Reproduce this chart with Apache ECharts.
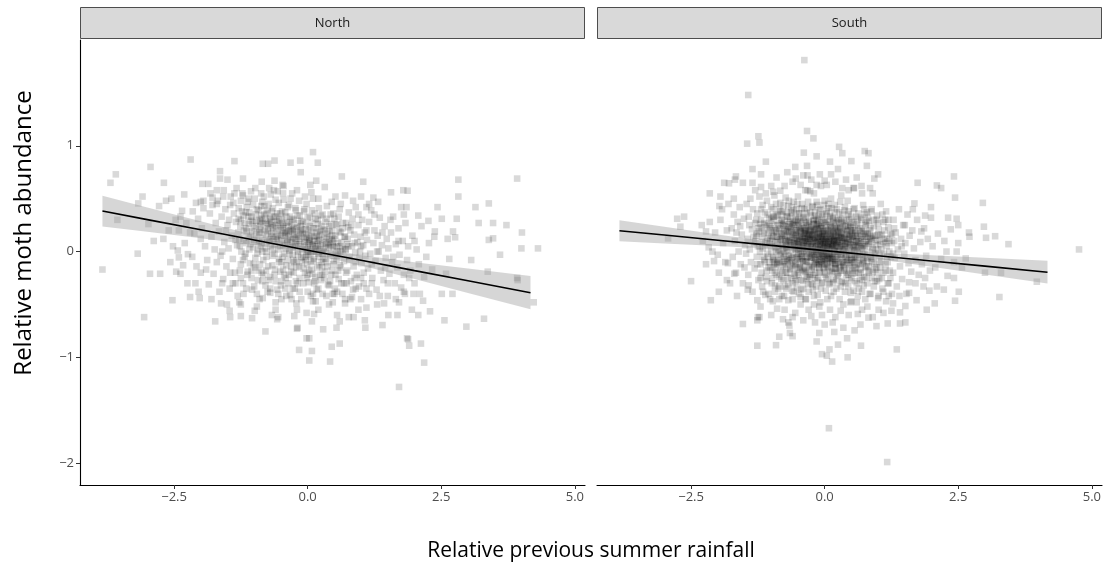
<!DOCTYPE html>
<html><head><meta charset="utf-8">
<script src="https://cdn.jsdelivr.net/npm/echarts@6/dist/echarts.min.js"></script>
<style>html,body{margin:0;padding:0;background:#fff}#c{width:1108px;height:568px}</style>
</head><body><div id="c"></div>
<script>
const panels = ['North','South'];
const xTicks = [-2.5, 0, 2.5, 5.0];
const yTicks = [-2, -1, 0, 1];
const xTitle = 'Relative previous summer rainfall';
const yTitle = 'Relative moth abundance';

const bandX = [-3.84,-3,-2,-1,0,1,2,3,4.17];
const northFit = [0.383,0.302,0.206,0.109,0.013,-0.083,-0.180,-0.276,-0.389];
const northHalf = [0.145,0.115,0.080,0.048,0.030,0.048,0.080,0.115,0.157];
const southFit = [0.197,0.156,0.107,0.058,0.009,-0.040,-0.089,-0.138,-0.195];
const southHalf = [0.100,0.079,0.055,0.032,0.020,0.032,0.055,0.079,0.108];

const northPoints = [
[0.10,0.94],[-2.19,0.87],[-1.37,0.855],[-2.94,0.80],[-0.84,0.83],[-0.74,0.83],[-0.62,0.86],[-0.32,0.84],[-0.14,0.86],[0.19,0.84],[-0.13,0.75],[-3.59,0.73],[-3.69,0.65],[-1.64,0.76],[-2.69,0.65],[-1.97,0.64],[-1.86,0.64],[-1.64,0.69],[-1.50,0.68],[-1.21,0.69],[-0.86,0.66],[-0.62,0.67],[-0.47,0.63],[0.16,0.67],[0.32,0.61],[-2.31,0.54],[-3.09,0.52],[-2.55,0.50],[-2.65,0.48],[-2.78,0.43],[-3.17,0.455],[-1.70,0.58],[-1.78,0.51],[-2.35,0.385],[-2.09,0.46],[-2.0,0.47],[-3.56,0.30],[-2.98,0.26],[-2.88,0.10],[-3.18,-0.02],[-3.84,-0.17],[-2.95,-0.21],[-2.76,-0.21],[-2.46,-0.19],[-2.38,-0.21],[-2.41,0.20],[-2.43,0.01],[-2.41,-0.055],[-2.24,-0.025],[-2.33,-0.13],[-2.08,-0.14],[-2.2,0.18],[-2.12,0.17],
[0.64,0.71],[1.04,0.66],[0.07,0.56],[0.52,0.52],[0.70,0.53],[1.0,0.52],[1.23,0.51],[1.32,0.47],[1.56,0.56],[1.79,0.58],[1.87,0.575],[2.82,0.68],[3.92,0.69],[2.82,0.52],[2.43,0.42],[3.14,0.42],[3.39,0.455],[1.75,0.42],[1.85,0.42],[2.07,0.34],[2.26,0.29],[2.51,0.31],[2.79,0.31],[3.20,0.27],[3.47,0.27],[3.72,0.25],[4.01,0.18],[2.37,0.14],[2.62,0.12],[2.76,0.135],[2.72,0.19],[3.39,0.11],[3.47,0.125],[4.0,0.03],[4.31,0.03],[3.6,-0.03],[3.06,-0.08],[2.65,-0.07],[3.37,-0.19],[2.59,-0.21],[3.92,-0.25],
[-3.06,-0.62],[-2.53,-0.46],[-2.20,-0.43],[-2.04,-0.38],[-2.02,-0.44],[-1.73,-0.66],[-1.62,-0.49],[-1.51,-0.50],[-1.46,-0.56],[-1.45,-0.62],[-1.28,-0.48],[-1.25,-0.61],[-1.04,-0.63],[-0.99,-0.56],[-0.84,-0.44],[-0.70,-0.39],[-0.79,-0.755],[-0.67,-0.60],[-0.55,-0.62],[-0.57,-0.64],[-0.49,-0.45],[-0.33,-0.41],[-0.21,-0.49],[-0.25,-0.61],[-0.19,-0.72],[-0.20,-0.73],[-0.16,-0.93],[-0.02,-0.82],[0.03,-0.82],[0.03,-1.03],[0.08,-0.94],[-0.02,-0.58],[0.08,-0.66],[0.12,-0.59],[0.10,-0.47],[0.10,-0.40],[0.29,-0.735],[0.42,-1.04],[0.45,-0.90],[0.60,-0.87],[0.54,-0.72],[0.60,-0.66],[0.77,-0.62],[0.86,-0.62],[0.70,-0.49],[0.83,-0.43],[0.47,-0.40],[0.47,-0.48],[1.07,-0.65],[1.08,-0.72],[1.10,-0.53],[1.40,-0.695],[1.43,-0.49],[1.51,-0.60],[1.68,-0.60],[1.71,-0.48],[1.82,-0.40],[1.98,-0.40],[1.71,-1.28],[1.88,-0.83],[1.90,-0.89],[1.86,-0.82],[2.12,-0.87],[2.18,-1.05],[1.95,-0.55],[2.07,-0.60],[2.16,-0.465],[2.29,-0.565],[2.51,-0.40],[2.71,-0.40],[2.56,-0.65],[2.97,-0.71],[3.30,-0.635],[4.23,-0.48],[3.93,-0.27],
[-2.05,0.31],[-1.98,0.22],[-1.92,0.05],[-1.88,-0.08],[-1.83,0.36],[-1.8,0.14],[-1.76,-0.21],[-1.72,0.27],[-2.1,-0.3],[-1.95,0.41],[-1.85,-0.31],[-1.74,0.02],[-2.0,0.12],[-1.9,-0.17],[-1.78,0.44],[-1.7,-0.1],
[-1.68,0.48],[-1.66,0.19],[-1.63,-0.04],[-1.61,0.33],[-1.58,-0.26],[-1.56,0.09],[-1.54,0.4],[-1.52,-0.14],[-1.5,0.25],[-1.48,0.03],[-1.46,-0.35],[-1.44,0.52],[-1.42,0.15],[-1.4,-0.07],[-1.38,0.36],[-1.36,-0.2],[-1.34,0.28],[-1.32,0.06],[-1.31,-0.42],[-1.65,-0.38],[-1.57,0.58],[-1.47,0.3],[-1.39,0.46],[-1.35,0.11],[-1.6,0.0],[-1.53,0.2],
[-1.29,0.41],[-1.28,0.12],[-1.27,-0.18],[-1.25,0.3],[-1.24,0.0],[-1.22,0.55],[-1.21,-0.3],[-1.19,0.2],[-1.18,-0.05],[-1.16,0.37],[-1.15,0.08],[-1.13,-0.22],[-1.12,0.47],[-1.1,0.26],[-1.08,-0.11],[-1.07,0.15],[-1.05,0.33],[-1.04,-0.36],[-1.02,0.04],[-1.01,0.22],[-0.99,0.5],[-0.98,-0.15],[-0.96,0.29],[-0.95,0.1],[-0.93,-0.27],[-0.92,0.39],[-0.91,0.18],[-1.26,0.24],[-1.2,0.34],[-1.14,0.19],[-1.09,0.02],[-1.03,0.28],[-0.97,0.35],[-0.94,-0.02],
[-0.89,0.24],[-0.88,0.05],[-0.87,0.43],[-0.86,-0.2],[-0.85,0.31],[-0.84,0.13],[-0.83,-0.08],[-0.82,0.52],[-0.8,0.2],[-0.79,-0.32],[-0.78,0.36],[-0.77,0.0],[-0.76,0.26],[-0.74,-0.14],[-0.73,0.45],[-0.72,0.1],[-0.71,0.31],[-0.7,-0.24],[-0.68,0.17],[-0.67,0.38],[-0.66,-0.04],[-0.65,0.23],[-0.63,0.58],[-0.62,0.07],[-0.61,-0.17],[-0.6,0.33],[-0.59,0.14],[-0.57,-0.36],[-0.56,0.27],[-0.55,0.02],[-0.54,0.46],[-0.53,-0.1],[-0.52,0.2],[-0.51,0.36],[-0.88,0.28],[-0.81,0.35],[-0.75,0.19],[-0.69,0.25],[-0.64,0.12],[-0.58,0.29],
[-0.49,0.11],[-0.48,0.31],[-0.47,-0.05],[-0.46,0.22],[-0.45,0.49],[-0.44,-0.22],[-0.43,0.15],[-0.42,0.37],[-0.41,0.03],[-0.4,-0.13],[-0.39,0.27],[-0.38,0.08],[-0.37,0.42],[-0.36,-0.3],[-0.35,0.19],[-0.34,-0.02],[-0.33,0.33],[-0.32,0.12],[-0.31,-0.19],[-0.3,0.25],[-0.29,0.55],[-0.28,0.04],[-0.27,-0.08],[-0.26,0.3],[-0.25,0.16],[-0.24,-0.35],[-0.23,0.41],[-0.22,0.07],[-0.21,-0.15],[-0.2,0.23],[-0.19,0.34],[-0.18,-0.03],[-0.17,0.14],[-0.16,0.48],[-0.15,-0.25],[-0.14,0.2],[-0.13,0.05],[-0.12,0.29],[-0.11,-0.1],[-0.47,0.18],[-0.4,0.2],[-0.33,0.06],[-0.27,0.21],[-0.2,0.1],[-0.13,0.24],
[-0.09,0.17],[-0.08,-0.06],[-0.07,0.38],[-0.06,0.09],[-0.05,-0.2],[-0.04,0.26],[-0.03,0.0],[-0.02,0.45],[-0.01,-0.12],[0.0,0.02],[0.01,0.2],[0.02,-0.29],[0.03,0.12],[0.04,0.33],[0.05,-0.04],[0.06,0.18],[0.07,-0.17],[0.08,0.27],[0.09,0.06],[0.1,0.5],[0.11,-0.09],[0.12,0.14],[0.13,0.36],[0.14,-0.24],[0.15,0.03],[0.16,0.22],[0.17,-0.36],[0.18,0.1],[0.19,0.3],[0.2,-0.02],[0.21,0.41],[0.22,-0.13],[0.23,0.16],[0.24,0.06],[0.25,-0.27],[0.26,0.24],[0.27,0.0],[0.28,0.35],[0.29,-0.07],[0.0,0.0],[-0.03,0.14],[0.05,0.09],[0.12,0.0],[0.2,0.12],[0.27,-0.15],
[0.31,0.13],[0.32,-0.19],[0.33,0.28],[0.34,0.03],[0.35,-0.1],[0.36,0.43],[0.37,0.17],[0.38,-0.31],[0.39,0.08],[0.4,0.24],[0.42,-0.04],[0.43,0.35],[0.44,-0.22],[0.45,0.11],[0.46,0.2],[0.48,-0.12],[0.49,0.04],[0.5,0.31],[0.51,-0.35],[0.52,0.15],[0.54,-0.07],[0.55,0.26],[0.56,0.0],[0.58,-0.26],[0.59,0.19],[0.6,0.4],[0.62,-0.15],[0.63,0.09],[0.65,0.22],[0.66,-0.03],[0.68,-0.3],[0.69,0.14],[0.35,0.07],[0.41,0.12],[0.47,0.05],[0.53,-0.02],[0.61,0.05],
[0.71,0.02],[0.72,0.27],[0.74,-0.18],[0.75,0.12],[0.77,0.37],[0.78,-0.08],[0.8,0.2],[0.81,-0.28],[0.83,0.05],[0.84,0.31],[0.86,-0.14],[0.87,0.16],[0.89,-0.01],[0.9,0.42],[0.92,-0.22],[0.93,0.09],[0.95,0.25],[0.96,-0.33],[0.98,0.0],[0.99,0.14],[1.01,-0.11],[1.02,0.3],[1.04,0.06],[1.05,-0.2],[1.07,0.18],[1.08,-0.04],[0.76,0.05],[0.88,0.08],[0.97,-0.06],
[1.11,0.11],[1.13,-0.16],[1.15,0.28],[1.17,-0.02],[1.19,0.39],[1.21,-0.25],[1.23,0.08],[1.25,0.2],[1.27,-0.09],[1.29,-0.36],[1.31,0.15],[1.33,0.0],[1.35,0.32],[1.37,-0.18],[1.39,0.06],[1.42,-0.27],[1.44,0.24],[1.46,-0.06],[1.48,0.12],
[1.51,0.03],[1.53,-0.21],[1.56,0.18],[1.58,-0.1],[1.6,0.33],[1.63,-0.3],[1.65,0.07],[1.68,-0.15],[1.7,0.22],[1.72,-0.03],[1.75,-0.34],[1.78,0.1],[1.8,-0.22],[1.83,0.27],[1.86,-0.08],[1.88,0.05],
[1.92,-0.18],[1.96,0.15],[2.0,-0.3],[2.04,0.02],[2.08,-0.12],[2.13,0.24],[2.18,-0.24],[2.22,-0.05],[2.27,0.08],[2.33,-0.17],[2.38,0.19],
[-1.37,0.55],[-1.21,0.53],[-1.06,0.57],[-0.87,0.55],[-0.69,0.54],[-0.56,0.57],[-0.46,0.55],[0.45,0.47],[0.62,0.45],[0.85,0.48],[1.1,0.42],
[-2.6,0.2],[-2.52,0.05],[-2.47,0.3],[-2.3,0.08],[-2.27,0.27],[-2.16,-0.05],[-2.15,0.38],[-2.57,-0.1],[-2.7,0.12],[-2.25,-0.3],[-2.38,0.33]
];

const northCore = [
[-1.3,0.18],[-1.27,0.05],[-1.25,-0.12],[-1.23,0.38],[-1.2,0.1],[-1.18,0.27],[-1.16,-0.02],[-1.14,0.42],[-1.12,-0.19],[-1.1,0.13],[-1.29,0.31],[-1.21,-0.08],[-1.15,0.22],[-1.11,0.33],
[-1.09,0.37],[-1.07,0.07],[-1.05,-0.25],[-1.04,0.19],[-1.02,0.44],[-1.0,0.11],[-0.98,-0.06],[-0.97,0.24],[-0.95,0.4],[-0.93,0.02],[-0.92,-0.18],[-0.9,0.3],[-1.06,0.29],[-1.01,-0.12],[-0.96,0.16],[-0.91,0.09],
[-0.9,0.18],[-0.89,-0.12],[-0.87,0.34],[-0.86,0.08],[-0.84,0.27],[-0.83,-0.22],[-0.81,0.43],[-0.8,0.03],[-0.78,0.16],[-0.77,-0.05],[-0.75,0.39],[-0.74,0.22],[-0.73,-0.27],[-0.71,0.12],[-0.7,0.32],[-0.88,0.21],[-0.85,0.0],[-0.79,0.29],[-0.76,0.09],[-0.72,0.26],
[-0.69,0.05],[-0.68,0.28],[-0.66,-0.13],[-0.65,0.41],[-0.64,0.19],[-0.62,-0.02],[-0.61,0.25],[-0.6,-0.28],[-0.58,0.1],[-0.57,0.36],[-0.56,0.16],[-0.54,-0.07],[-0.53,0.3],[-0.52,0.05],[-0.51,-0.19],[-0.67,0.14],[-0.63,0.33],[-0.59,0.22],[-0.55,0.12],[-0.5,0.24],[-0.66,0.02],
[-0.5,0.15],[-0.49,-0.1],[-0.48,0.38],[-0.46,0.06],[-0.45,0.27],[-0.44,-0.02],[-0.42,0.17],[-0.41,-0.25],[-0.4,0.33],[-0.38,0.11],[-0.37,-0.08],[-0.36,0.24],[-0.35,0.44],[-0.34,0.01],[-0.32,0.2],[-0.31,-0.14],[-0.3,0.09],[-0.47,0.25],[-0.43,0.09],[-0.39,0.18],[-0.33,0.28],[-0.46,-0.17],[-0.36,0.14],
[-0.29,0.31],[-0.28,-0.03],[-0.27,0.13],[-0.26,-0.2],[-0.25,0.22],[-0.24,0.05],[-0.22,0.39],[-0.21,-0.09],[-0.2,0.16],[-0.19,-0.3],[-0.18,0.27],[-0.17,0.07],[-0.16,-0.14],[-0.15,0.34],[-0.14,0.12],[-0.12,-0.05],[-0.11,0.21],[-0.1,0.02],[-0.28,0.19],[-0.23,0.12],[-0.18,0.0],[-0.13,0.18],[-0.25,-0.1],
[-0.09,0.28],[-0.08,-0.16],[-0.07,0.1],[-0.06,0.4],[-0.05,0.04],[-0.04,-0.08],[-0.03,0.21],[-0.02,-0.25],[-0.01,0.13],[0.0,0.32],[0.01,-0.03],[0.02,0.08],[0.03,-0.18],[0.04,0.24],[0.05,0.02],[0.06,-0.1],[0.07,0.15],[0.08,0.39],[0.09,-0.21],[0.1,0.07],[-0.06,0.16],[0.0,0.06],[0.04,0.11],[-0.03,-0.05],[0.08,0.0],
[0.11,0.22],[0.12,-0.07],[0.13,0.1],[0.14,-0.28],[0.15,0.31],[0.16,0.0],[0.17,0.15],[0.18,-0.15],[0.19,0.05],[0.2,0.26],[0.21,-0.05],[0.22,0.11],[0.23,-0.22],[0.24,0.19],[0.25,0.34],[0.26,-0.1],[0.27,0.07],[0.28,-0.02],[0.29,0.2],[0.14,0.05],[0.22,0.02],[0.18,0.18],
[0.3,0.0],[0.31,-0.25],[0.32,0.21],[0.33,-0.07],[0.35,0.14],[0.36,0.31],[0.37,-0.14],[0.39,0.04],[0.4,-0.32],[0.41,0.19],[0.43,-0.02],[0.44,0.26],[0.45,-0.18],[0.47,0.09],[0.48,0.36],[0.49,-0.09],[0.34,0.09],[0.42,0.06],[0.46,0.15],
[0.5,0.12],[0.52,-0.22],[0.53,0.25],[0.55,-0.04],[0.57,0.08],[0.58,0.33],[0.6,-0.13],[0.62,0.18],[0.63,-0.3],[0.65,0.03],[0.66,0.27],[0.68,-0.09],[0.7,0.14],[0.72,-0.2],[0.74,0.07],[0.76,0.23],[0.78,-0.05],[0.54,0.05],[0.61,0.0],[0.71,0.02],
[-1.95,0.48],[-1.82,0.55],[-1.7,0.45],[-1.58,0.52],[-1.45,0.44],[-1.33,0.6],[-1.25,0.48],[-1.1,0.5],[-0.98,0.6],[-0.85,0.47],[-0.72,0.6],[-0.6,0.49],[-0.45,0.62],[-0.32,0.5],[-0.2,0.58],[-0.05,0.52],[0.05,0.63],[0.2,0.5],
[-1.4,-0.3],[-1.2,-0.4],[-1.0,-0.33],[-0.9,-0.45],[-0.75,-0.38],[-0.6,-0.48],[-0.5,-0.32],[-0.4,-0.42],[-0.28,-0.35],[-0.12,-0.45],[0.0,-0.38],[0.15,-0.47],[0.28,-0.4],[0.4,-0.5],[0.55,-0.38],[0.7,-0.45],[0.85,-0.36],[1.0,-0.45],[1.15,-0.4],[1.3,-0.5],[1.5,-0.42],
[0.82,0.25],[0.9,-0.1],[0.95,0.35],[1.0,0.05],[1.05,-0.3],[1.1,0.2],[1.2,-0.12],[1.25,0.35],[1.3,0.0],[1.4,0.18],[1.45,-0.15],[1.55,0.3],[1.6,-0.05],[1.7,0.1],[1.8,0.35],[1.9,-0.25],[2.0,0.1],[2.1,-0.4],[0.88,-0.25],[1.15,0.45]
];

const northLower = [
[-1.45,-0.2],[-1.35,-0.3],[-1.25,-0.25],[-1.15,-0.35],[-1.05,-0.18],[-0.95,-0.4],[-0.85,-0.28],[-0.78,-0.18],[-0.7,-0.35],[-0.62,-0.22],[-0.55,-0.4],[-0.48,-0.28],[-0.42,-0.35],[-0.35,-0.22],[-0.3,-0.45],[-0.22,-0.28],[-0.15,-0.38],[-0.08,-0.3],[0.0,-0.22],[0.06,-0.42],[0.12,-0.3],[0.2,-0.35],[0.27,-0.22],[0.35,-0.42],[0.42,-0.28],[0.5,-0.4],[0.57,-0.18],[0.65,-0.4],[0.73,-0.3],[0.8,-0.45],[0.9,-0.35],[1.0,-0.25],[1.1,-0.35],[1.2,-0.3],[1.35,-0.42],[1.5,-0.3],[1.65,-0.45],[1.8,-0.38],[-1.6,-0.3],[-1.8,-0.45],[-2.0,-0.2],[-1.25,-0.5],[-0.6,-0.55],[0.2,-0.55],[0.95,-0.55],[-0.95,-0.52],[0.55,-0.6],[-0.2,-0.55]
];

const southPoints = [
[-0.33,1.14],[-0.21,1.07],[-1.24,1.09],[-1.22,1.03],[-1.45,1.02],[-0.39,0.935],[0.27,0.99],[0.33,0.93],[0.50,0.855],[-1.10,0.85],[-0.33,0.81],[-1.35,0.78],[-1.19,0.73],[-1.66,0.71],[-1.68,0.68],[-1.88,0.65],[-1.79,0.645],[-1.53,0.65],[-1.35,0.65],[-1.19,0.61],[-0.83,0.575],[-0.96,0.565],[-0.54,0.69],[-0.32,0.58],[-0.27,0.57],[-0.09,0.73],[0.12,0.73],[0.04,0.63],[0.33,0.60],[0.55,0.60],[-2.15,0.55],[-1.95,0.52],[-1.70,0.50],[-2.76,0.31],[-2.63,0.33],[-2.70,0.235],[-2.93,0.125],[-2.30,0.25],[-2.22,0.19],[-1.97,0.43],[-1.92,0.40],[-2.17,0.04],[-2.07,-0.09],[-2.00,-0.03],[-2.50,-0.28],[-2.13,-0.46],[-1.98,-0.38],[-1.64,-0.42],[-1.26,-0.46],[-1.25,-0.62],[-0.38,1.81],[-1.43,1.48],[-0.32,0.72],[-1.81,-0.11],[-1.69,-0.21],[-1.83,-0.27],
[0.75,0.95],[0.82,0.93],[0.79,0.81],[1.0,0.73],[0.93,0.69],[1.74,0.65],[2.42,0.71],[2.10,0.625],[2.18,0.60],[2.44,0.51],[2.96,0.46],[1.68,0.455],[1.99,0.42],[0.54,0.60],[0.69,0.62],[0.85,0.60],[2.31,0.32],[2.47,0.31],[2.50,0.25],[2.98,0.235],[3.02,0.13],[3.19,0.145],[2.70,0.18],[2.71,0.14],[3.44,0.07],[4.76,0.02],[1.99,0.32],[1.5,0.25],[1.81,0.19],[3.0,-0.20],[3.30,-0.20],[3.97,-0.285],[2.42,-0.25],[2.51,-0.38],[2.44,-0.465],[3.27,-0.43],[2.06,-0.49],[1.91,-0.55],[1.72,-0.46],[1.88,-0.25],[1.85,-0.33],[1.96,-0.37],[1.7,-0.3],[1.58,-0.29],[2.28,0.0],[2.47,0.0],[2.64,-0.065],
[-1.53,-0.685],[-1.26,-0.89],[-1.26,-0.65],[-1.22,-0.62],[-0.91,-0.885],[-0.85,-0.805],[-0.78,-0.64],[-0.68,-0.67],[-0.66,-0.70],[-0.6,-0.62],[-0.65,-0.77],[-0.25,-0.61],[-0.18,-0.67],[-0.10,-0.77],[0.0,-0.69],[-0.05,-0.97],[0.04,-0.985],[0.09,-0.925],[0.14,-1.04],[0.18,-0.76],[0.15,-0.67],[0.42,-0.82],[0.43,-1.0],[0.56,-0.745],[0.62,-0.59],[0.67,-0.69],[0.68,-0.89],[0.82,-0.625],[0.97,-0.705],[1.01,-0.55],[1.18,-0.68],[1.25,-0.56],[1.35,-0.925],[1.41,-0.575],[1.41,-0.68],[1.51,-0.67],[1.51,-0.515],[1.58,-0.39],[2.23,-0.36],[2.10,-0.33],[0.08,-1.67],[1.17,-1.99],[-1.44,-0.36],[-1.42,-0.32],[-1.11,-0.41],[-0.97,-0.47],[-0.89,-0.54],[-0.6,-0.45],[-0.45,-0.5],[-0.3,-0.55],[-0.1,-0.52],[0.1,-0.55],[0.3,-0.56],[0.5,-0.47],[0.8,-0.52],[1.0,-0.44],[1.15,-0.47],[1.28,-0.49],[1.4,-0.42],
[-1.74,0.22],[-1.72,-0.05],[-1.7,0.35],[-1.68,0.1],[-1.66,-0.2],[-1.63,0.28],[-1.61,0.0],[-1.59,0.42],[-1.57,-0.12],[-1.55,0.16],[-1.53,-0.3],[-1.51,0.31],[-1.49,0.06],[-1.47,-0.02],[-1.46,0.45],[-1.65,0.18],[-1.58,0.24],[-1.5,-0.15],
[-1.44,0.12],[-1.43,-0.22],[-1.42,0.33],[-1.4,0.02],[-1.39,0.5],[-1.38,-0.1],[-1.36,0.21],[-1.35,-0.38],[-1.34,0.4],[-1.32,0.08],[-1.31,-0.16],[-1.3,0.27],[-1.28,0.15],[-1.27,-0.05],[-1.26,0.36],[-1.24,-0.27],[-1.23,0.19],[-1.22,0.52],[-1.21,0.0],[-1.2,-0.12],[-1.19,0.3],[-1.18,0.09],[-1.17,-0.33],[-1.16,0.44],[-1.41,0.25],[-1.33,0.14],[-1.25,0.05],[-1.18,0.23],
[-1.14,0.17],[-1.13,-0.08],[-1.12,0.37],[-1.11,0.05],[-1.1,-0.24],[-1.09,0.26],[-1.08,0.48],[-1.07,-0.02],[-1.06,0.13],[-1.05,-0.4],[-1.04,0.32],[-1.03,0.07],[-1.02,-0.15],[-1.01,0.22],[-1.0,0.42],[-0.99,-0.3],[-0.98,0.1],[-0.97,0.29],[-0.96,-0.06],[-0.95,0.18],[-0.94,0.53],[-0.93,-0.2],[-0.92,0.04],[-0.91,0.35],[-0.9,0.14],[-0.89,-0.11],[-0.88,0.25],[-0.87,-0.35],[-0.86,0.01],[-0.85,0.4],[-1.12,0.2],[-1.08,0.1],[-1.03,0.24],[-0.99,0.15],[-0.96,0.33],[-0.92,0.2],[-0.88,0.09],[-1.06,-0.05],[-0.94,-0.1],[-1.0,0.0],
[-0.84,0.21],[-0.83,-0.04],[-0.83,0.46],[-0.82,0.12],[-0.81,-0.26],[-0.8,0.3],[-0.79,0.06],[-0.78,-0.14],[-0.78,0.38],[-0.77,0.17],[-0.76,-0.42],[-0.75,0.24],[-0.74,0.0],[-0.73,0.51],[-0.73,-0.2],[-0.72,0.1],[-0.71,0.33],[-0.7,-0.08],[-0.69,0.19],[-0.68,0.43],[-0.68,-0.31],[-0.67,0.04],[-0.66,0.26],[-0.65,-0.16],[-0.64,0.14],[-0.63,0.37],[-0.63,-0.03],[-0.62,0.22],[-0.61,-0.37],[-0.6,0.08],[-0.59,0.29],[-0.58,-0.11],[-0.58,0.47],[-0.57,0.16],[-0.56,-0.23],[-0.55,0.02],[-0.8,0.15],[-0.77,0.26],[-0.74,0.11],[-0.71,0.2],[-0.67,0.09],[-0.64,0.28],[-0.61,0.13],[-0.58,0.2],[-0.82,-0.1],[-0.75,-0.05],[-0.69,-0.1],[-0.62,-0.06],[-0.56,0.1],[-0.72,0.05],
[-0.54,0.25],[-0.54,-0.13],[-0.53,0.4],[-0.52,0.07],[-0.52,-0.34],[-0.51,0.18],[-0.5,-0.02],[-0.5,0.52],[-0.49,0.3],[-0.48,-0.22],[-0.48,0.11],[-0.47,0.36],[-0.46,-0.07],[-0.45,0.21],[-0.45,-0.43],[-0.44,0.03],[-0.43,0.27],[-0.42,-0.16],[-0.42,0.45],[-0.41,0.13],[-0.4,-0.28],[-0.39,0.06],[-0.39,0.33],[-0.38,-0.04],[-0.37,0.19],[-0.36,0.58],[-0.36,-0.19],[-0.35,0.09],[-0.34,0.25],[-0.33,-0.1],[-0.33,0.41],[-0.32,0.15],[-0.31,-0.31],[-0.3,0.01],[-0.3,0.28],[-0.29,-0.24],[-0.28,0.11],[-0.27,0.37],[-0.27,-0.05],[-0.26,0.2],[-0.53,0.15],[-0.5,0.08],[-0.47,0.22],[-0.44,0.14],[-0.41,0.03],[-0.38,0.17],[-0.35,0.2],[-0.32,0.05],[-0.29,0.16],[-0.26,0.07],[-0.51,-0.05],[-0.46,-0.15],[-0.4,-0.09],[-0.34,-0.02],[-0.28,-0.13],[-0.49,0.0],[-0.43,0.09],[-0.37,0.1],[-0.31,0.12],[-0.25,0.0],
[-0.24,0.16],[-0.24,-0.17],[-0.23,0.43],[-0.22,0.05],[-0.22,-0.36],[-0.21,0.26],[-0.2,-0.06],[-0.2,0.55],[-0.19,0.13],[-0.18,-0.25],[-0.18,0.34],[-0.17,0.02],[-0.16,0.21],[-0.15,-0.12],[-0.15,0.47],[-0.14,0.09],[-0.13,-0.41],[-0.13,0.3],[-0.12,-0.03],[-0.11,0.17],[-0.1,-0.2],[-0.1,0.39],[-0.09,0.06],[-0.08,0.24],[-0.07,-0.09],[-0.07,0.62],[-0.06,0.12],[-0.05,-0.29],[-0.05,0.33],[-0.04,0.0],[-0.03,0.19],[-0.02,-0.15],[-0.02,0.44],[-0.01,0.08],[0.0,-0.04],[0.0,0.27],[0.01,-0.22],[0.02,0.14],[0.03,0.36],[0.03,-0.07],[0.04,0.05],[-0.22,0.1],[-0.19,0.2],[-0.16,0.08],[-0.13,0.14],[-0.1,0.02],[-0.07,0.15],[-0.04,0.1],[-0.01,0.17],[0.02,0.0],[-0.23,-0.02],[-0.17,-0.08],[-0.11,-0.13],[-0.06,-0.02],[0.01,0.09],[-0.2,0.3],[-0.14,0.25],[-0.08,0.07],[-0.03,0.04],[-0.02,-0.02],[-0.03,-0.03],[0.0,0.03],[-0.12,0.11],[-0.18,0.04],[-0.05,0.22],
[0.06,0.2],[0.06,-0.14],[0.07,0.41],[0.08,0.03],[0.09,-0.31],[0.1,0.26],[0.11,-0.05],[0.11,0.12],[0.12,0.5],[0.13,-0.19],[0.14,0.07],[0.15,0.32],[0.15,-0.09],[0.16,0.17],[0.17,-0.38],[0.18,0.0],[0.19,0.24],[0.19,0.44],[0.2,-0.12],[0.21,0.1],[0.22,-0.27],[0.23,0.3],[0.23,0.04],[0.24,-0.02],[0.25,0.18],[0.26,-0.2],[0.27,0.37],[0.27,0.09],[0.28,-0.07],[0.29,0.22],[0.3,-0.33],[0.31,0.13],[0.31,0.53],[0.32,-0.1],[0.33,0.27],[0.34,0.02],[0.08,0.1],[0.12,0.19],[0.16,0.06],[0.2,0.14],[0.24,0.11],[0.28,0.15],[0.32,0.06],[0.09,-0.02],[0.14,-0.07],[0.19,-0.05],[0.25,0.0],[0.3,-0.03],[0.1,0.33],[0.17,0.28],[0.22,0.21],[0.07,0.07],[0.13,0.04],[0.18,0.1],[0.26,0.04],[0.33,0.12],[0.05,-0.06],[0.21,-0.16],[0.29,0.31],[0.11,0.23],
[0.36,0.19],[0.36,-0.16],[0.37,0.39],[0.38,0.05],[0.39,-0.3],[0.4,0.24],[0.41,-0.05],[0.42,0.12],[0.43,0.48],[0.44,-0.22],[0.45,0.08],[0.46,0.31],[0.47,-0.11],[0.48,0.16],[0.49,-0.39],[0.5,0.01],[0.51,0.27],[0.52,-0.18],[0.53,0.1],[0.54,0.4],[0.55,-0.07],[0.56,0.2],[0.57,-0.28],[0.58,0.06],[0.59,0.33],[0.6,-0.13],[0.61,0.15],[0.62,-0.01],[0.63,0.24],[0.64,-0.35],[0.38,0.13],[0.42,0.2],[0.47,0.07],[0.51,0.14],[0.55,0.04],[0.6,0.1],[0.4,-0.1],[0.45,0.0],[0.5,-0.08],[0.56,-0.15],[0.62,0.3],[0.44,0.35],[0.53,0.22],[0.39,0.08],[0.48,0.23],[0.58,0.17],[0.63,0.05],[0.37,0.0],[0.46,-0.03],[0.57,-0.05],
[0.66,0.09],[0.67,-0.2],[0.68,0.32],[0.69,0.03],[0.7,0.2],[0.71,-0.11],[0.72,0.44],[0.73,-0.32],[0.74,0.14],[0.75,-0.03],[0.76,0.26],[0.77,0.07],[0.78,-0.24],[0.79,0.37],[0.8,0.0],[0.81,0.17],[0.82,-0.14],[0.83,0.29],[0.84,-0.4],[0.85,0.1],[0.86,0.22],[0.87,-0.07],[0.88,0.4],[0.89,0.04],[0.9,-0.19],[0.91,0.15],[0.92,0.3],[0.93,-0.01],[0.94,-0.28],[0.68,0.12],[0.72,0.06],[0.77,0.17],[0.82,0.09],[0.87,0.13],[0.91,-0.06],[0.7,-0.05],[0.8,-0.09],[0.75,0.35],
[0.96,0.11],[0.97,-0.15],[0.98,0.34],[1.0,0.02],[1.01,0.21],[1.02,-0.26],[1.04,0.07],[1.05,0.45],[1.06,-0.09],[1.07,0.16],[1.08,-0.35],[1.1,0.28],[1.11,-0.02],[1.12,0.12],[1.14,-0.18],[1.15,0.38],[1.16,0.05],[1.18,-0.1],[1.19,0.23],[1.2,-0.3],[1.21,0.0],[1.23,0.17],[1.24,-0.05],[1.0,0.16],[1.09,0.09],[1.17,0.12],[1.03,-0.04],[1.13,0.3],
[1.26,0.08],[1.28,-0.2],[1.29,0.3],[1.31,-0.06],[1.33,0.18],[1.35,-0.33],[1.37,0.02],[1.39,0.4],[1.41,-0.14],[1.43,0.12],[1.45,-0.26],[1.47,0.25],[1.49,-0.02],[1.51,0.08],[1.53,-0.4],[1.55,0.35],[1.57,-0.11],[1.59,0.15],[1.3,0.1],[1.44,0.05],
[1.62,-0.19],[1.64,0.2],[1.67,0.03],[1.7,-0.08],[1.73,0.3],[1.76,-0.22],[1.79,0.09],[1.82,-0.12],[1.86,0.22],[1.9,-0.04],[1.93,0.12],[1.97,-0.18],[1.65,0.4],[1.88,0.34],
[2.02,0.05],[2.07,-0.15],[2.12,0.17],[2.18,-0.07],[2.24,0.1],[2.3,-0.23],[2.36,0.21],[2.42,-0.1],[2.5,0.08],[2.57,-0.15],
[-2.28,0.1],[-2.22,-0.12],[-2.15,0.28],[-2.1,0.0],[-2.05,0.18],[-1.98,-0.2],[-1.95,0.3],[-1.9,0.08],[-1.86,-0.1],[-1.83,0.2],[-1.8,0.45],[-1.77,-0.3],
[-1.0,0.62],[-0.9,0.7],[-0.75,0.62],[-0.7,0.75],[-0.6,0.66],[-0.45,0.63],[-0.4,0.72],[-0.25,0.68],[-0.15,0.63],[0.0,0.67],[0.2,0.66],[0.25,0.78],[0.4,0.68],[0.45,0.58],[0.6,0.7],[0.7,0.55],[0.9,0.55],[-1.1,0.55],[-1.3,0.58],[-0.55,0.8],[0.1,0.85],[-0.15,0.9],
[-1.2,-0.52],[-1.0,-0.6],[-0.85,-0.45],[-0.75,-0.55],[-0.55,-0.58],[-0.4,-0.65],[-0.35,-0.45],[-0.2,-0.5],[-0.05,-0.6],[0.05,-0.45],[0.2,-0.62],[0.35,-0.5],[0.45,-0.6],[0.6,-0.48],[0.7,-0.55],[0.9,-0.62],[1.1,-0.58],[1.2,-0.42],[-0.6,-0.8],[0.35,-0.72],[-0.15,-0.85],[0.25,-0.88]
];

const southCore = [
[-1.0,0.31],[-0.99,0.05],[-0.98,-0.18],[-0.97,0.4],[-0.96,0.14],[-0.95,-0.05],[-0.94,0.25],[-0.93,-0.32],[-0.92,0.09],[-0.91,0.45],[-0.9,0.19],[-0.89,-0.12],[-0.88,0.34],[-0.87,0.02],[-0.86,0.22],[-0.85,-0.24],[-0.84,0.11],[-0.83,0.38],[-0.82,-0.03],[-0.81,0.27],[-0.8,0.06],[-0.99,0.2],[-0.95,0.33],[-0.92,-0.15],[-0.88,0.14],[-0.85,0.29],[-0.82,0.17],[-0.97,-0.08],[-0.9,0.0],[-0.84,-0.1],
[-0.8,0.35],[-0.79,-0.2],[-0.79,0.12],[-0.78,0.03],[-0.77,0.44],[-0.76,0.19],[-0.76,-0.09],[-0.75,0.29],[-0.74,-0.33],[-0.73,0.08],[-0.73,0.21],[-0.72,-0.14],[-0.71,0.37],[-0.7,0.01],[-0.7,0.15],[-0.69,-0.25],[-0.68,0.24],[-0.67,0.48],[-0.67,-0.04],[-0.66,0.11],[-0.65,0.31],[-0.64,-0.17],[-0.64,0.06],[-0.63,0.19],[-0.62,0.42],[-0.62,-0.1],[-0.61,0.26],[-0.6,0.03],[-0.6,-0.3],[-0.78,0.25],[-0.75,0.14],[-0.72,0.04],[-0.69,0.33],[-0.66,0.18],[-0.63,0.09],[-0.61,0.36],[-0.77,-0.02],[-0.71,-0.07],[-0.65,0.23],[-0.68,0.1],
[-0.59,0.16],[-0.59,-0.05],[-0.58,0.39],[-0.57,0.08],[-0.57,-0.21],[-0.56,0.27],[-0.55,0.13],[-0.55,-0.12],[-0.54,0.33],[-0.53,0.02],[-0.53,0.2],[-0.52,-0.27],[-0.51,0.45],[-0.51,0.1],[-0.5,-0.07],[-0.49,0.24],[-0.49,0.05],[-0.48,0.36],[-0.47,-0.15],[-0.47,0.14],[-0.46,0.29],[-0.45,-0.02],[-0.45,0.19],[-0.44,-0.36],[-0.43,0.41],[-0.43,0.07],[-0.42,0.23],[-0.41,-0.09],[-0.41,0.12],[-0.4,0.32],[-0.58,0.25],[-0.56,0.04],[-0.54,0.18],[-0.52,0.12],[-0.5,0.28],[-0.48,0.09],[-0.46,0.2],[-0.44,0.15],[-0.42,0.01],[-0.4,0.17],[-0.55,0.07],[-0.51,-0.17],[-0.47,0.04],[-0.43,-0.05],[-0.53,0.3],
[-0.4,0.06],[-0.39,-0.18],[-0.39,0.22],[-0.38,0.4],[-0.38,0.0],[-0.37,0.13],[-0.36,-0.1],[-0.36,0.3],[-0.35,0.05],[-0.35,0.18],[-0.34,-0.26],[-0.34,0.36],[-0.33,0.1],[-0.32,0.24],[-0.32,-0.05],[-0.31,0.47],[-0.31,0.16],[-0.3,-0.15],[-0.3,0.07],[-0.29,0.28],[-0.28,0.02],[-0.28,0.19],[-0.27,-0.22],[-0.27,0.12],[-0.26,0.34],[-0.25,-0.06],[-0.25,0.23],[-0.24,0.09],[-0.23,-0.31],[-0.23,0.15],[-0.22,0.42],[-0.22,0.0],[-0.21,0.2],[-0.2,-0.11],[-0.2,0.1],[-0.37,0.2],[-0.35,0.27],[-0.33,0.03],[-0.31,0.09],[-0.29,0.14],[-0.27,0.21],[-0.25,0.13],[-0.23,0.05],[-0.21,0.29],[-0.39,0.1],[-0.36,0.12],[-0.33,0.17],[-0.3,0.22],[-0.26,0.04],[-0.22,0.16],
[-0.2,0.26],[-0.19,-0.03],[-0.19,0.14],[-0.18,0.37],[-0.18,-0.2],[-0.17,0.08],[-0.17,0.22],[-0.16,-0.08],[-0.16,0.31],[-0.15,0.03],[-0.15,0.16],[-0.14,-0.27],[-0.14,0.44],[-0.13,0.1],[-0.13,0.21],[-0.12,-0.12],[-0.12,0.05],[-0.11,0.33],[-0.11,0.13],[-0.1,-0.04],[-0.1,0.24],[-0.09,-0.19],[-0.09,0.09],[-0.08,0.4],[-0.08,0.17],[-0.07,0.01],[-0.07,-0.35],[-0.06,0.27],[-0.06,0.07],[-0.05,0.14],[-0.05,-0.1],[-0.04,0.35],[-0.04,0.2],[-0.03,-0.06],[-0.03,0.11],[-0.02,0.28],[-0.02,0.03],[-0.01,-0.16],[-0.01,0.19],[0.0,0.08],[0.0,0.48],[-0.19,0.19],[-0.17,0.12],[-0.15,0.26],[-0.13,0.02],[-0.11,0.18],[-0.09,0.14],[-0.07,0.22],[-0.05,0.05],[-0.03,0.16],[-0.01,0.12],[-0.16,0.0],[-0.12,0.27],[-0.08,-0.07],[-0.04,0.09],
[0.0,0.15],[0.01,-0.09],[0.01,0.3],[0.02,0.06],[0.02,0.21],[0.03,-0.24],[0.03,0.12],[0.04,0.38],[0.04,-0.02],[0.05,0.17],[0.05,0.04],[0.06,-0.15],[0.06,0.28],[0.07,0.09],[0.07,0.45],[0.08,-0.06],[0.08,0.2],[0.09,0.13],[0.09,-0.3],[0.1,0.02],[0.1,0.34],[0.11,0.16],[0.11,-0.11],[0.12,0.08],[0.12,0.25],[0.13,-0.02],[0.13,0.41],[0.14,0.13],[0.14,-0.2],[0.15,0.05],[0.15,0.22],[0.16,-0.07],[0.16,0.31],[0.17,0.1],[0.17,-0.26],[0.18,0.18],[0.18,0.03],[0.19,-0.12],[0.19,0.37],[0.2,0.09],[0.02,0.1],[0.04,0.14],[0.06,0.04],[0.08,0.1],[0.1,0.19],[0.12,0.14],[0.14,0.06],[0.16,0.15],[0.18,0.11],[0.2,0.2],[0.03,0.25],[0.07,-0.03],[0.11,0.07],[0.15,0.12],[0.19,0.01],
[0.2,-0.16],[0.21,0.27],[0.21,0.05],[0.22,0.15],[0.23,-0.08],[0.23,0.4],[0.24,0.19],[0.25,-0.23],[0.25,0.08],[0.26,0.3],[0.27,0.0],[0.27,0.13],[0.28,-0.14],[0.29,0.23],[0.29,0.47],[0.3,0.06],[0.31,-0.04],[0.31,0.17],[0.32,-0.29],[0.33,0.35],[0.33,0.1],[0.34,-0.1],[0.35,0.21],[0.35,0.02],[0.36,0.29],[0.37,-0.18],[0.37,0.12],[0.38,0.42],[0.39,0.07],[0.39,-0.06],[0.22,0.07],[0.24,0.11],[0.26,0.16],[0.28,0.05],[0.3,0.14],[0.32,0.18],[0.34,0.08],[0.36,0.13],[0.38,0.02],[0.4,0.16],[0.23,0.22],[0.27,0.24],[0.31,0.28],[0.35,-0.13],[0.39,0.25],
[0.4,-0.02],[0.41,0.3],[0.42,-0.2],[0.42,0.09],[0.43,0.19],[0.44,-0.08],[0.45,0.38],[0.45,0.14],[0.46,-0.27],[0.47,0.04],[0.48,0.25],[0.48,-0.13],[0.49,0.11],[0.5,0.33],[0.51,-0.03],[0.51,0.18],[0.52,0.06],[0.53,-0.21],[0.54,0.28],[0.54,0.12],[0.55,-0.1],[0.56,0.41],[0.57,0.01],[0.57,0.2],[0.58,-0.16],[0.59,0.09],[0.6,0.26],[0.43,0.06],[0.46,0.12],[0.49,0.2],[0.52,0.15],[0.55,0.06],[0.58,0.14],[0.44,0.24],[0.5,-0.06],[0.56,0.0],[0.6,0.04],[0.47,0.17],
[0.61,-0.06],[0.62,0.15],[0.63,0.36],[0.64,-0.2],[0.65,0.08],[0.66,0.22],[0.67,-0.11],[0.68,0.03],[0.69,0.3],[0.7,-0.27],[0.71,0.12],[0.72,-0.02],[0.73,0.19],[0.74,0.4],[0.75,0.05],[0.76,-0.15],[0.77,0.25],[0.78,0.1],[0.79,-0.06],[0.8,0.16],[0.63,0.1],[0.67,0.17],[0.71,0.05],[0.75,0.14],[0.79,0.28],[0.65,-0.03],[0.73,-0.09],[0.69,0.19],
[0.81,0.32],[0.82,-0.18],[0.83,0.07],[0.84,0.2],[0.86,-0.05],[0.87,0.38],[0.88,0.12],[0.89,-0.25],[0.9,0.02],[0.92,0.24],[0.93,-0.12],[0.94,0.15],[0.96,0.06],[0.97,0.3],[0.98,-0.2],[0.99,0.1],[0.85,0.14],[0.95,-0.02],
[-1.3,0.1],[-1.28,0.3],[-1.26,-0.12],[-1.24,0.22],[-1.22,0.05],[-1.2,-0.25],[-1.19,0.4],[-1.17,0.14],[-1.15,-0.05],[-1.13,0.27],[-1.11,0.08],[-1.09,-0.18],[-1.07,0.35],[-1.05,0.18],[-1.03,-0.1],[-1.02,0.12],[-1.27,0.17],[-1.21,0.26],[-1.16,0.03],[-1.06,0.25],
[1.0,0.27],[1.02,-0.1],[1.04,0.15],[1.06,0.02],[1.08,0.35],[1.1,-0.2],[1.12,0.2],[1.14,0.08],[1.17,-0.05],[1.19,0.3],[1.21,0.1],[1.23,-0.25],[1.26,0.16],[1.28,-0.02],[1.3,0.22]
];

const southLower = [
[-1.18,-0.2],[-1.15,-0.38],[-1.12,-0.1],[-1.08,-0.28],[-1.05,-0.15],[-1.02,-0.45],[-0.98,-0.25],[-0.95,-0.12],[-0.93,-0.38],[-0.9,-0.22],[-0.87,-0.08],[-0.85,-0.33],[-0.82,-0.18],[-0.8,-0.42],[-0.77,-0.27],[-0.75,-0.12],[-0.72,-0.35],[-0.7,-0.2],[-0.68,-0.46],[-0.65,-0.08],[-0.63,-0.25],[-0.6,-0.14],[-0.58,-0.38],[-0.55,-0.28],[-0.53,-0.06],[-0.5,-0.2],[-0.48,-0.4],[-0.46,-0.11],[-0.44,-0.27],[-0.42,-0.05],[-0.4,-0.35],[-0.38,-0.17],[-0.36,-0.45],[-0.34,-0.09],[-0.32,-0.24],[-0.3,-0.38],[-0.28,-0.06],[-0.26,-0.3],[-0.24,-0.14],[-0.22,-0.22],[-0.2,-0.42],[-0.18,-0.1],[-0.16,-0.33],[-0.14,-0.05],[-0.12,-0.25],[-0.1,-0.15],[-0.08,-0.48],[-0.06,-0.12],[-0.04,-0.3],[-0.02,-0.08],[0.0,-0.2],[0.02,-0.37],[0.04,-0.12],[0.06,-0.26],[0.08,-0.04],[0.1,-0.18],[0.12,-0.42],[0.14,-0.1],[0.16,-0.29],[0.18,-0.16],[0.2,-0.05],[0.22,-0.35],[0.24,-0.21],[0.26,-0.1],[0.28,-0.45],[0.3,-0.18],[0.32,-0.03],[0.34,-0.28],[0.36,-0.12],[0.38,-0.38],[0.4,-0.22],[0.42,-0.08],[0.44,-0.33],[0.46,-0.16],[0.48,-0.48],[0.5,-0.25],[0.52,-0.1],[0.54,-0.37],[0.56,-0.2],[0.58,-0.06],[0.6,-0.3],[0.62,-0.42],[0.64,-0.12],[0.66,-0.26],[0.68,-0.17],[0.7,-0.38],[0.72,-0.08],[0.74,-0.24],[0.76,-0.45],[0.78,-0.14],[0.8,-0.3],[0.83,-0.2],[0.86,-0.4],[0.89,-0.1],[0.92,-0.33],[0.95,-0.17],[0.98,-0.28],[1.01,-0.42],[1.04,-0.15],[1.07,-0.25],[1.1,-0.38],[1.14,-0.12],[1.18,-0.3],[1.22,-0.18],[1.26,-0.4],[-0.15,-0.02],[-0.05,-0.05],[0.05,-0.08],[0.15,-0.03],[-0.25,-0.04],[-0.1,-0.1],[0.0,-0.12],[0.1,-0.07],[-0.2,-0.15],[0.2,-0.11],[-0.35,-0.2],[0.3,-0.15]
];

const fits = [northFit, southFit];
const halves = [northHalf, southHalf];
const pointSets = [northPoints.concat(northCore, northLower), southPoints.concat(southCore, southLower)];

const chart = echarts.init(document.getElementById('c'), null, {renderer:'canvas'});
const FONT = 'Open Sans';
const X_MIN = -4.26, X_MAX = 5.19, Y_MIN = -2.207, Y_MAX = 2.0;
const gridLeft = [80, 597], gridW = 505, gridTop = 40, gridH = 445;

function fmtX(v){ return (v < 0 ? '\u2212' : '') + Math.abs(v).toFixed(1); }
function fmtY(v){ return (v < 0 ? '\u2212' : '') + Math.abs(v).toFixed(0); }

const grids = gridLeft.map(l => ({left:l, top:gridTop, width:gridW, height:gridH}));
const xAxes = gridLeft.map((l,i) => ({
  type:'value', gridIndex:i, min:X_MIN, max:X_MAX,
  axisLine:{show:true, onZero:false, lineStyle:{color:'#000', width:1.1}},
  axisTick:{show:true, length:4, customValues:xTicks, lineStyle:{color:'#333', width:1}},
  axisLabel:{customValues:xTicks, formatter:fmtX, color:'#4d4d4d', fontSize:13, fontFamily:FONT, margin:6},
  splitLine:{show:false}
}));
const yAxes = gridLeft.map((l,i) => ({
  type:'value', gridIndex:i, min:Y_MIN, max:Y_MAX,
  axisLine:{show:i===0, onZero:false, lineStyle:{color:'#000', width:1.1}},
  axisTick:{show:i===0, length:4, customValues:yTicks, lineStyle:{color:'#333', width:1}},
  axisLabel:{show:i===0, customValues:yTicks, formatter:fmtY, color:'#4d4d4d', fontSize:13, fontFamily:FONT, margin:6},
  splitLine:{show:false}
}));

const series = [];
pointSets.forEach((pts,i) => {
  series.push({
    type:'scatter', xAxisIndex:i, yAxisIndex:i, data:pts,
    symbol:'rect', symbolSize:6.6, z:2, large:false,
    itemStyle:{color:'#000', opacity:0.15},
    emphasis:{disabled:true}, silent:true
  });
  const fit = fits[i], half = halves[i];
  series.push({
    type:'custom', xAxisIndex:i, yAxisIndex:i, z:3, silent:true,
    data:[[bandX[0], fit[0]]],
    renderItem:function(params, api){
      const up = bandX.map((x,k) => api.coord([x, fit[k] + half[k]]));
      const lo = bandX.map((x,k) => api.coord([x, fit[k] - half[k]])).reverse();
      return {type:'polygon', shape:{points:up.concat(lo)}, style:{fill:'rgba(153,153,153,0.4)'}};
    }
  });
  series.push({
    type:'line', xAxisIndex:i, yAxisIndex:i, z:4, silent:true,
    data:bandX.map((x,k) => [x, fit[k]]), showSymbol:false, symbol:'none',
    lineStyle:{color:'#000', width:1.6}
  });
});

const graphic = [];
panels.forEach((name,i) => {
  graphic.push({type:'rect', shape:{x:gridLeft[i]+0.5, y:7.5, width:gridW-1, height:31},
    style:{fill:'#d9d9d9', stroke:'#4d4d4d', lineWidth:1}, silent:true});
  graphic.push({type:'text', x:gridLeft[i]+gridW/2, y:23,
    style:{text:name, fill:'#1a1a1a', font:'13px "'+FONT+'"', textAlign:'center', textVerticalAlign:'middle'}, silent:true});
});
graphic.push({type:'text', x:591, y:551,
  style:{text:xTitle, fill:'#000', font:'21px "'+FONT+'"', textAlign:'center', textVerticalAlign:'middle'}, silent:true});
graphic.push({type:'text', x:24, y:233, rotation:Math.PI/2,
  style:{text:yTitle, fill:'#000', font:'24px "'+FONT+'"', textAlign:'center', textVerticalAlign:'middle'}, silent:true});

chart.setOption({
  animation:false, backgroundColor:'#fff',
  grid:grids, xAxis:xAxes, yAxis:yAxes, series:series, graphic:graphic
});
</script></body></html>
